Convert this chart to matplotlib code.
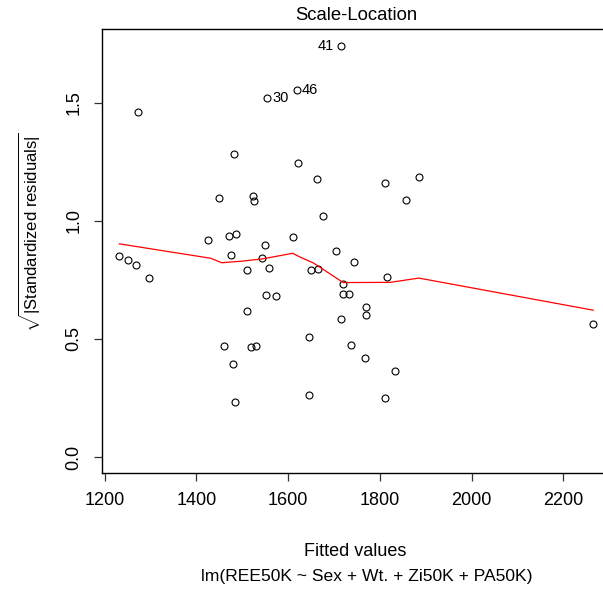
import matplotlib
matplotlib.use("Agg")
import matplotlib.pyplot as plt
import numpy as np

plt.rcParams['font.family'] = ['Liberation Sans', 'DejaVu Sans']
plt.rcParams['mathtext.fontset'] = 'custom'
plt.rcParams['mathtext.rm'] = 'Liberation Sans'
plt.rcParams['mathtext.it'] = 'Liberation Sans'

fitted = [1232, 1251.4, 1269, 1295.8, 1271.9, 1425, 1448.3, 1459.2, 1471.6, 1475,
          1479.4, 1481.7, 1484.6, 1485.3, 1510, 1510, 1518, 1523, 1525.2, 1528.9,
          1543.5, 1549.1, 1551.4, 1553.5, 1557.2, 1572.4, 1610.1, 1618.2, 1621, 1644.3,
          1644.3, 1648.7, 1662.5, 1664.6, 1674.8, 1705.3, 1715.5, 1715.5, 1718.4, 1720.5,
          1733.6, 1736.6, 1743.8, 1767, 1770, 1770, 1811.3, 1811.3, 1815.5, 1833.8,
          1857, 1886, 2265]
sqrt_std_resid = [0.853, 0.835, 0.812, 0.757, 1.463, 0.918, 1.099, 0.472, 0.938, 0.857,
                  0.393, 1.283, 0.233, 0.944, 0.792, 0.617, 0.467, 1.107, 1.083, 0.472,
                  0.843, 0.898, 0.688, 1.522, 0.802, 0.684, 0.932, 1.556, 1.247, 0.507,
                  0.263, 0.792, 1.178, 0.798, 1.022, 0.874, 1.743, 0.586, 0.692, 0.732,
                  0.692, 0.473, 0.828, 0.418, 0.634, 0.603, 1.162, 0.249, 0.763, 0.363,
                  1.088, 1.188, 0.564]

smooth_x = [1232, 1431, 1455, 1500, 1543, 1610, 1627, 1655, 1720, 1823, 1885, 2265]
smooth_y = [0.903, 0.842, 0.823, 0.830, 0.839, 0.863, 0.846, 0.822, 0.739, 0.740, 0.758, 0.622]

labels = ["41", "46", "30"]
label_x = [1715.5, 1618.2, 1553.5]
label_y = [1.743, 1.556, 1.522]
label_side = ["left", "right", "right"]

xticks = [1200, 1400, 1600, 1800, 2000, 2200]
yticks = [0.0, 0.5, 1.0, 1.5]

fig = plt.figure(figsize=(6.03, 5.94), dpi=100)
ax = fig.add_axes([102/603, 1 - 472.7/594, (612 - 102)/603, (472.7 - 29.3)/594])

ax.plot(fitted, sqrt_std_resid, linestyle='none', marker='o', markersize=5.0,
        markerfacecolor='none', markeredgecolor='black', markeredgewidth=0.8)
ax.plot(smooth_x, smooth_y, color='red', linewidth=0.9)

for t, x, y, s in zip(labels, label_x, label_y, label_side):
    if s == "left":
        ax.annotate(t, (x, y), xytext=(-5, 0), textcoords='offset points',
                    ha='right', va='center', fontsize=10.5)
    else:
        ax.annotate(t, (x, y), xytext=(4, 0), textcoords='offset points',
                    ha='left', va='center', fontsize=10.5)

ax.set_xlim(1194, 2306)
ax.set_ylim(-0.0665, 1.812)
ax.set_xticks(xticks)
ax.set_xticklabels([str(v) for v in xticks])
ax.set_yticks(yticks)
ax.set_yticklabels(["%.1f" % v for v in yticks], rotation=90, va='center')
ax.tick_params(direction='out', length=6, width=0.9, labelsize=13, pad=8,
               colors='#333333', labelcolor='black')
for sp in ax.spines.values():
    sp.set_linewidth(1.0)
    sp.set_color('black')

fig.text(356/603, 1 - 15/594, "Scale-Location", ha='center', va='center', fontsize=13.3)
fig.text(355/603, 1 - 552/594, "Fitted values", ha='center', va='center', fontsize=13)
fig.text(367/603, 1 - 577/594, "lm(REE50K ~ Sex + Wt. + Zi50K + PA50K)",
         ha='center', va='center', fontsize=12.6)
fig.text(30/603, 1 - 232/594, r"$\sqrt{|\mathrm{Standardized\ residuals}|}$",
         ha='center', va='center', rotation=90, fontsize=12)

fig.savefig("out.png", dpi=100)
